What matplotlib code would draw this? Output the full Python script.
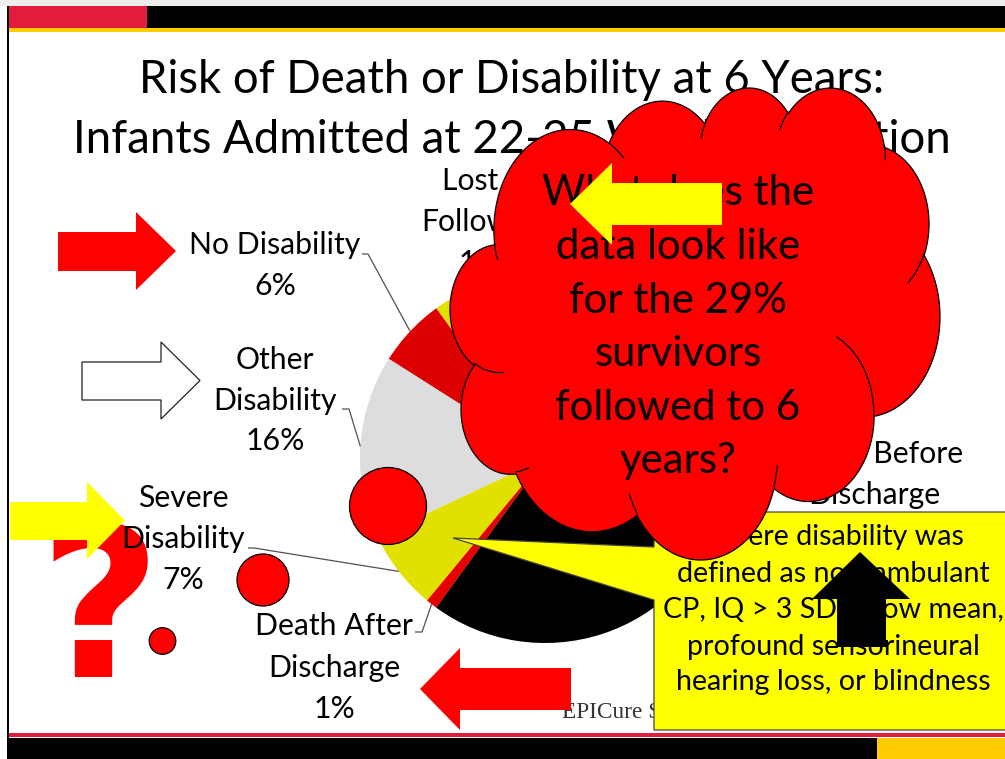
import numpy as np
import matplotlib
matplotlib.use("Agg")
import matplotlib.pyplot as plt
from matplotlib.patches import Polygon, Circle, Rectangle, PathPatch
from matplotlib.path import Path

# ---------------- data ----------------
categories = ["Lost to\nFollow-up", "No Disability", "Other\nDisability",
              "Severe\nDisability", "Death After\nDischarge", "Death Before\nDischarge"]
percents = [10, 6, 16, 7, 1, 60]
colors = ["#E1E100", "#DC0000", "#DDDDDD", "#E1E100", "#E60000", "#000000"]

title_lines = ["Risk of Death or Disability at 6 Years:",
               "Infants Admitted at 22-25 Weeks Gestation"]
callout_lines = ["Severe disability was", "defined as non-ambulant",
                 "CP, IQ > 3 SD below mean,", "profound sensorineural",
                 "hearing loss, or blindness"]
source_text = "EPICure Study Group"

followed = percents[1] + percents[2] + percents[3]
cloud_lines = ["What does the", "data look like", f"for the {followed}%",
               "survivors", "followed to 6", "years?"]

# ---------------- layout ----------------
W, H = 1005, 759
FONT = "Lato"

fig = plt.figure(figsize=(W / 100, H / 100), dpi=100)
fig.patch.set_facecolor("white")
ax = fig.add_axes([0, 0, 1, 1])

PIE_C = (545, 458)
PIE_R = 185
wedges, _ = ax.pie(percents, colors=colors, startangle=-90, counterclock=False,
                   center=PIE_C, radius=PIE_R, frame=True,
                   wedgeprops=dict(linewidth=0))
for w in wedges:
    w.set_zorder(1)

ax.set_xlim(0, W)
ax.set_ylim(H, 0)
ax.set_aspect("auto")
ax.axis("off")

# ---------- slide frame ----------
ax.add_patch(Rectangle((0, 0), W, 6, color="#EDEDED", zorder=0.5, lw=0))
ax.add_patch(Rectangle((147, 6), W - 147, 22, color="black", zorder=0.6, lw=0))
ax.add_patch(Rectangle((9, 6), 138, 22, color="#E31C3D", zorder=0.6, lw=0))
ax.add_patch(Rectangle((9, 28), W - 9, 4, color="#FFCC00", zorder=0.6, lw=0))
ax.add_patch(Rectangle((6.5, 6), 2.5, H - 6, color="black", zorder=0.6, lw=0))
ax.add_patch(Rectangle((9, 733), W - 9, 4, color="#E31C3D", zorder=0.6, lw=0))
ax.add_patch(Rectangle((9, 738), 868, H - 738, color="black", zorder=0.6, lw=0))
ax.add_patch(Rectangle((877, 738), W - 877, H - 738, color="#FFCC00", zorder=0.6, lw=0))

# ---------- title ----------
for txt, yb in zip(title_lines, [93, 153]):
    ax.text(512, yb, txt, ha="center", va="baseline", fontsize=32.8,
            family=FONT, color="black", zorder=2)

# ---------- question mark ----------
ax.text(100, 677, "?", ha="center", va="baseline", fontsize=152,
        family="DejaVu Sans", weight="bold", color="#FF0000", zorder=2.5)

# ---------- pie labels ----------
LBL_FS = 21.7
label_layout = {
    0: dict(x=488, base=[190, 231, 272], leader=None),
    1: dict(x=275, base=[254, 295], leader=(362, 368, 254)),
    2: dict(x=275, base=[369, 410, 450], leader=(342, 349, 409)),
    3: dict(x=183, base=[507, 548, 589], leader=(248, 254, 548)),
    4: dict(x=334, base=[635, 677, 718], leader=(415, 422, 632)),
    5: dict(x=874, base=[463, 504, 545], leader=None),
}
for i, (cat, pct, w) in enumerate(zip(categories, percents, wedges)):
    lay = label_layout[i]
    lines = cat.split("\n") + [f"{pct}%"]
    for ln, yb in zip(lines, lay["base"]):
        ax.text(lay["x"], yb, ln, ha="center", va="baseline", fontsize=LBL_FS,
                family=FONT, color="black", zorder=3)
    if lay["leader"] is not None:
        mid = np.deg2rad((w.theta1 + w.theta2) / 2)
        px_ = PIE_C[0] + PIE_R * np.cos(mid)
        py_ = PIE_C[1] + PIE_R * np.sin(mid)
        sx, ex, sy = lay["leader"]
        ax.plot([sx, ex, px_], [sy, sy, py_], color="#505050", lw=0.9,
                zorder=3, solid_capstyle="butt")


# ---------- arrows ----------
def h_arrow(x0, x1, xtip, yb0, yb1, yh0, yh1):
    ym = (yh0 + yh1) / 2
    return [(x0, yb0), (x1, yb0), (x1, yh0), (xtip, ym), (x1, yh1), (x1, yb1), (x0, yb1)]


ax.add_patch(Polygon(h_arrow(58, 136, 176, 232, 271, 212, 290), closed=True,
                     facecolor="#FF0000", edgecolor="none", zorder=4))
ax.add_patch(Polygon(h_arrow(82, 161, 200, 362, 400, 342, 419), closed=True,
                     facecolor="white", edgecolor="#222222", lw=0.9, zorder=4))
ax.add_patch(Polygon(h_arrow(10, 87, 125, 502, 540, 482, 559), closed=True,
                     facecolor="#FFFF00", edgecolor="none", zorder=7))
ax.add_patch(Polygon(h_arrow(571, 460, 420, 668, 710, 648, 730), closed=True,
                     facecolor="#FF0000", edgecolor="none", zorder=6))

# ---------- source ----------
ax.text(562, 718, source_text, ha="left", va="baseline", fontsize=16.8,
        family="Liberation Serif", color="#333333", zorder=3)

# ---------- yellow callout ----------
callout = [(654, 512), (1012, 512), (1012, 730), (654, 730), (654, 600),
           (453, 538), (654, 547)]
ax.add_patch(Polygon(callout, closed=True, facecolor="#FFFF00",
                     edgecolor="#444444", lw=0.9, zorder=4))
for ln, yb in zip(callout_lines, [545, 582, 618, 655, 690]):
    ax.text(833, yb, ln, ha="center", va="baseline", fontsize=20.6,
            family=FONT, color="black", zorder=4.5)
up = [(860, 552), (910, 599), (886, 599), (886, 647), (837, 647), (837, 599), (812, 599)]
ax.add_patch(Polygon(up, closed=True, facecolor="black", edgecolor="none", zorder=4.6))


# ---------- cloud (DrawingML cloud geometry) ----------
def ell_pt(wR, hR, a):
    r = wR * hR / np.hypot(hR * np.cos(a), wR * np.sin(a))
    return r * np.cos(a), r * np.sin(a)


def arc_run(start, arcs, n=60):
    x, y = start
    pts = [(x, y)]
    for wR, hR, st, sw in arcs:
        st = np.deg2rad(st / 60000.0)
        sw = np.deg2rad(sw / 60000.0)
        ox, oy = ell_pt(wR, hR, st)
        cx, cy = x - ox, y - oy
        for t in np.linspace(st, st + sw, n)[1:]:
            qx, qy = ell_pt(wR, hR, t)
            pts.append((cx + qx, cy + qy))
        x, y = pts[-1]
    return np.array(pts)


outline = arc_run((3900, 14370), [
    (6753, 9190, -11429249, 7426832), (5333, 7267, -8646143, 5396714),
    (4365, 5945, -8748475, 5983381), (4857, 6595, -7859164, 7034504),
    (5333, 7273, -4722533, 6541615), (6775, 9220, -2776035, 7816140),
    (5785, 7867, 37501, 6842000), (6752, 9215, 1347096, 6910353),
    (7720, 10543, 3974558, 4542661), (4360, 5918, -16496525, 8804134),
    (4345, 5945, -14809710, 9151131)])
inner = [
    arc_run((4693, 26177), [(4345, 5945, 5204520, 1585770)], 20),
    arc_run((6928, 34899), [(4360, 5918, 4416628, 686848)], 20),
    arc_run((16478, 39090), [(6752, 9215, 8257449, 844866)], 20),
    arc_run((28827, 34751), [(6752, 9215, 387196, 959901)], 20),
    arc_run((34129, 22954), [(5785, 7867, -4217541, 4255042)], 20),
    arc_run((41798, 15354), [(5333, 7273, 1819082, 1665090)], 20),
    arc_run((38324, 5426), [(4857, 6595, -824660, 891534)], 20),
    arc_run((29078, 3952), [(4857, 6595, -8950887, 1091722)], 20),
    arc_run((22141, 4720), [(4365, 5945, -9809656, 1061181)], 20),
    arc_run((14000, 5192), [(6753, 9190, -4002417, 739161)], 20),
    arc_run((4127, 15789), [(6753, 9190, 9459261, 711490)], 20),
]
CL, CR, CT, CB = 450, 940, 88, 560
mnx, mxx = outline[:, 0].min(), outline[:, 0].max()
mny, mxy = outline[:, 1].min(), outline[:, 1].max()


def to_px(p):
    return np.column_stack([CL + (p[:, 0] - mnx) / (mxx - mnx) * (CR - CL),
                            CT + (p[:, 1] - mny) / (mxy - mny) * (CB - CT)])


cpx = to_px(outline)
ax.add_patch(PathPatch(Path(np.vstack([cpx, cpx[:1]]), closed=True),
                       facecolor="#FF0000", edgecolor="black", lw=0.9, zorder=5))
for seg in inner:
    s = to_px(seg)
    ax.plot(s[:, 0], s[:, 1], color="black", lw=0.9, zorder=5.1)

# thought bubbles
for (cx, cy, r) in [(388, 506, 38.5), (263, 580, 26), (162.5, 641, 13.3)]:
    ax.add_patch(Circle((cx, cy), r, facecolor="#FF0000", edgecolor="black",
                        lw=0.9, zorder=5))

for ln, yb in zip(cloud_lines, [205, 259, 313, 366, 420, 473]):
    ax.text(678, yb, ln, ha="center", va="baseline", fontsize=30.2,
            family=FONT, color="black", zorder=5.5)

ax.add_patch(Polygon(h_arrow(722, 612, 570, 183, 225, 163, 245), closed=True,
                     facecolor="#FFFF00", edgecolor="none", zorder=6))

fig.savefig("out.png", dpi=100)
